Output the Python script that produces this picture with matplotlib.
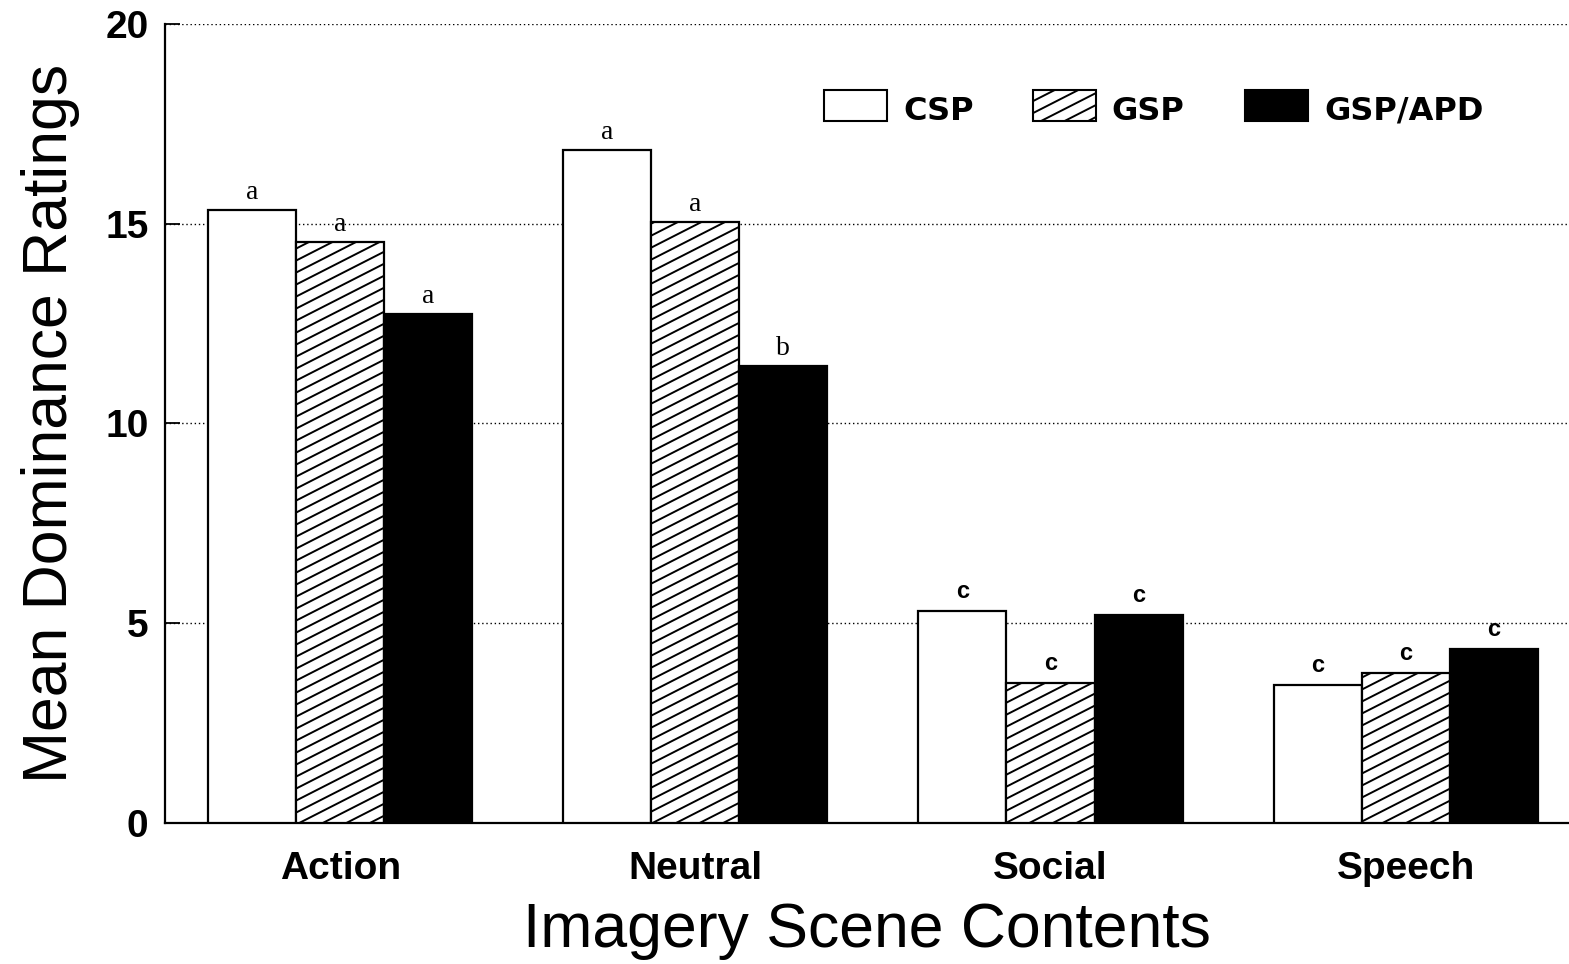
import numpy as np
import matplotlib
matplotlib.use('Agg')
import matplotlib.pyplot as plt
from matplotlib.patches import Rectangle
from matplotlib.collections import LineCollection

# data
scenes = ['Action', 'Neutral', 'Social', 'Speech']
groups = ['CSP', 'GSP', 'GSP/APD']
csp = [15.35, 16.85, 5.3, 3.45]
gsp = [14.55, 15.05, 3.5, 3.75]
gsp_apd = [12.75, 11.45, 5.2, 4.35]
csp_letters = ['a', 'a', 'c', 'c']
gsp_letters = ['a', 'a', 'c', 'c']
apd_letters = ['a', 'b', 'c', 'c']

SANS = 'Liberation Sans'
SERIF = 'Liberation Serif'

fig = plt.figure(figsize=(15.69, 9.64), dpi=100)
ax = fig.add_axes([0.1052, 0.1463, 0.8948, 0.8288])

HATCH_ANGLE = 27      # degrees, shallower than matplotlib's '/' hatch
HATCH_STEP = 0.12     # inches between hatch lines (vertical)


def add_hatch(patch, ax):
    # draw diagonal hatch lines in inch space, clipped to the patch
    W, H = fig.get_size_inches()
    slope = np.tan(np.radians(HATCH_ANGLE))
    segs = []
    for c in np.arange(-W * slope - 1, H + 1, HATCH_STEP):
        segs.append([(0, c), (W, c + W * slope)])
    lc = LineCollection(segs, colors='black', linewidths=1.4,
                        transform=fig.dpi_scale_trans, zorder=patch.get_zorder() + 0.1)
    ax.add_collection(lc, autolim=False)
    lc.set_clip_path(patch)


x = np.arange(len(scenes))
w = 0.248
series = [(csp, 'white', csp_letters), (gsp, 'white', gsp_letters), (gsp_apd, 'black', apd_letters)]

for i, (vals, fc, letters) in enumerate(series):
    bars = ax.bar(x + (i - 1) * w, vals, w, color=fc, edgecolor='black', linewidth=1.6, zorder=3)
    for b, v, lt in zip(bars, vals, letters):
        if i == 1:
            add_hatch(b, ax)
        if lt == 'c':
            ax.text(b.get_x() + b.get_width() / 2, v + 0.2, lt, ha='center', va='bottom',
                    family=SANS, fontweight='bold', fontsize=17)
        else:
            ax.text(b.get_x() + b.get_width() / 2, v + 0.12, lt, ha='center', va='bottom',
                    family=SERIF, fontsize=20)

ax.set_xlim(-0.493, 3.46)
ax.set_ylim(0, 20)
ax.set_yticks([0, 5, 10, 15, 20])
ax.set_xticks(x)
ax.set_xticklabels(scenes)
for lab in ax.get_xticklabels() + ax.get_yticklabels():
    lab.set_family(SANS)
    lab.set_fontweight('bold')
ax.tick_params(axis='x', direction='in', length=12, width=1.3, labelsize=28, pad=20)
ax.tick_params(axis='y', direction='in', length=11, width=1.3, labelsize=28, pad=12)

for yv in [5, 10, 15, 20]:
    ax.axhline(yv, color='black', linestyle=(0, (1, 2)), linewidth=1.0, zorder=1)

ax.spines['top'].set_visible(False)
ax.spines['right'].set_visible(False)
ax.spines['left'].set_linewidth(1.6)
ax.spines['bottom'].set_linewidth(1.6)

ax.set_ylabel('Mean Dominance Ratings', family=SANS, fontsize=45, labelpad=18)
ax.set_xlabel('Imagery Scene Contents', family=SANS, fontsize=45, labelpad=10)

# legend drawn as boxes in axes fraction
box_x = [0.4694, 0.6182, 0.7692]
text_x = [0.5256, 0.6738, 0.8255]
fills = ['white', 'white', 'black']
for k, name in enumerate(groups):
    r = Rectangle((box_x[k], 0.8786), 0.0449, 0.0388, transform=ax.transAxes,
                  facecolor=fills[k], edgecolor='black', linewidth=1.5, zorder=4)
    ax.add_patch(r)
    if k == 1:
        add_hatch(r, ax)
    ax.text(text_x[k], 0.891, name, transform=ax.transAxes, ha='left', va='center',
            family='DejaVu Sans', fontweight='bold', fontsize=23)

fig.savefig('out.png', dpi=100)
